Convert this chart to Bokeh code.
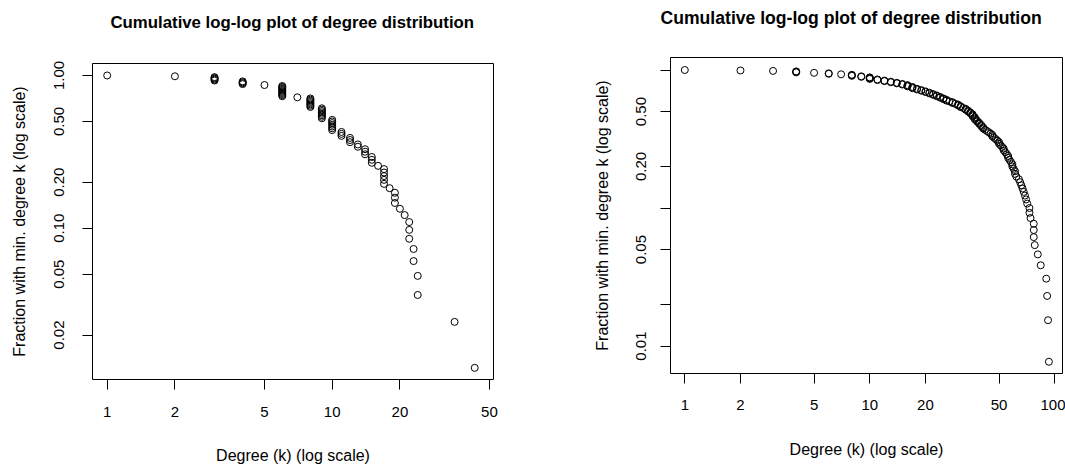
import numpy as np
from bokeh.plotting import figure
from bokeh.models import FixedTicker, Range1d
from bokeh.layouts import row, column
from bokeh.embed import file_html
from bokeh.resources import INLINE

title_text = "Cumulative log-log plot of degree distribution"
x_label = "Degree (k) (log scale)"
y_label = "Fraction with min. degree k (log scale)"

# Left network: degree values and number of nodes with that degree (n = 82)
left_degrees = [1, 2, 3, 4, 5, 6, 7, 8, 9, 10, 11, 12, 13, 14, 15, 16, 17, 18,
                19, 20, 21, 22, 23, 24, 35, 43]
left_counts = [1, 1, 5, 4, 1, 11, 1, 8, 8, 7, 3, 3, 2, 3, 3, 1, 5, 1,
               3, 1, 1, 3, 2, 2, 1, 1]

# Right network: degree values and number of nodes with that degree (n = 130)
right_degrees = [1, 2, 3, 4, 5, 6, 7, 8, 9, 10, 11, 12, 13, 14, 15, 16, 17, 18,
                 19, 20, 21, 22, 23, 24, 25, 26, 27, 28, 29, 30, 31, 32, 33, 34,
                 35, 36, 37, 38, 39, 40, 41, 42, 43, 44, 45, 46, 47, 48, 49, 50,
                 51, 52, 53, 54, 55, 56, 57, 58, 59, 60, 61, 62, 64, 65, 66, 67,
                 68, 69, 70, 71, 73, 74, 77, 78, 81, 84, 90, 91, 92, 93]
right_counts = [1, 1, 1, 3, 1, 2, 1, 3, 2, 4, 2, 2, 2, 2, 2, 3, 3, 2,
                2, 2, 2, 2, 2, 2, 2, 2, 1, 2, 1, 2, 2, 1, 2, 2,
                2, 3, 3, 2, 2, 2, 2, 1, 1, 1, 1, 2, 1, 1, 1, 2,
                1, 1, 2, 1, 1, 2, 1, 1, 2, 1, 2, 1, 1, 1, 1, 1,
                1, 1, 1, 1, 2, 1, 3, 1, 1, 1, 1, 1, 1, 1]

left_x_ticks = [1, 2, 5, 10, 20, 50]
left_x_tick_labels = ["1", "2", "5", "10", "20", "50"]
left_y_ticks = [1, 0.5, 0.2, 0.1, 0.05, 0.02]
left_y_tick_labels = ["1.00", "0.50", "0.20", "0.10", "0.05", "0.02"]

right_x_ticks = [1, 2, 5, 10, 20, 50, 100]
right_x_tick_labels = ["1", "2", "5", "10", "20", "50", "100"]
right_y_ticks = [1, 0.5, 0.2, 0.1, 0.05, 0.02, 0.01]
right_y_tick_labels = ["", "0.50", "0.20", "", "0.05", "", "0.01"]


def cumulative(degrees, counts):
    seq = np.repeat(np.array(degrees, dtype=float), counts)
    seq = np.sort(seq)[::-1]
    n = len(seq)
    frac = np.arange(1, n + 1) / n
    return seq, frac


FONT = "Liberation Sans"


def make_plot(width, height, borders, xr_log, yr_log, degrees, counts,
              xticks, xlabels, yticks, ylabels, xt_stand, xl_stand,
              yt_stand, yl_stand, title_size, title_offset, title_pad):
    left, right, top, bottom = borders
    p = figure(width=width, height=height, x_axis_type="log", y_axis_type="log",
               x_range=Range1d(10 ** xr_log[0], 10 ** xr_log[1]),
               y_range=Range1d(10 ** yr_log[0], 10 ** yr_log[1]),
               output_backend="svg", toolbar_location=None,
               min_border_left=left, min_border_right=right,
               min_border_top=top, min_border_bottom=bottom,
               background_fill_color="white", border_fill_color="white")

    x, y = cumulative(degrees, counts)
    p.scatter(x, y, marker="circle", size=7, fill_color=None,
              line_color="black", line_width=1)
    p.outline_line_color = "black"
    p.outline_line_width = 1
    p.outline_line_alpha = 1
    p.grid.visible = False

    p.title.text = title_text
    p.title.align = "left"
    p.title.vertical_align = "bottom"
    p.title.offset = title_offset
    p.title.text_font = FONT
    p.title.text_font_style = "bold"
    p.title.text_font_size = title_size
    p.title.text_color = "black"
    try:
        # padding order: (left, right, top, bottom)
        p.title.padding = (0, 0, 0, title_pad)
        p.title.standoff = 0
    except Exception:
        p.title.standoff = 10

    for ax in (p.xaxis[0], p.yaxis[0]):
        ax.axis_line_color = None
        ax.major_tick_out = 10
        ax.major_tick_in = 0
        ax.minor_tick_out = 0
        ax.minor_tick_in = 0
        ax.major_tick_line_color = "black"
        ax.major_tick_line_width = 1
        ax.major_label_text_font = FONT
        ax.major_label_text_font_size = "15px"
        ax.major_label_text_color = "black"
        ax.axis_label_text_font = FONT
        ax.axis_label_text_font_size = "16px"
        ax.axis_label_text_font_style = "normal"
        ax.axis_label_text_color = "black"

    p.xaxis[0].ticker = FixedTicker(ticks=xticks)
    p.xaxis[0].major_label_overrides = {t: l for t, l in zip(xticks, xlabels)}
    p.xaxis[0].axis_label = x_label
    p.xaxis[0].major_label_standoff = xt_stand
    p.xaxis[0].axis_label_standoff = xl_stand

    p.yaxis[0].ticker = FixedTicker(ticks=yticks)
    p.yaxis[0].major_label_overrides = {t: l for t, l in zip(yticks, ylabels)}
    p.yaxis[0].major_label_orientation = "vertical"
    p.yaxis[0].axis_label = y_label
    p.yaxis[0].major_label_standoff = yt_stand
    p.yaxis[0].axis_label_standoff = yl_stand
    return p


p1 = make_plot(535, 466, (92, 42, 63, 86), (-0.0653, 1.717), (-1.990, 0.0784),
               left_degrees, left_counts,
               left_x_ticks, left_x_tick_labels, left_y_ticks, left_y_tick_labels,
               17, 27, 18, 24, "16.8px", 18, 32)

p2 = make_plot(530, 466, (135, 3, 57, 93), (-0.0773, 2.042), (-2.199, 0.0906),
               right_degrees, right_counts,
               right_x_ticks, right_x_tick_labels, right_y_ticks, right_y_tick_labels,
               16, 28, 14, 23, "17.6px", -10, 30)

layout = row(column(p1), column(p2))
open("out.html", "w").write(file_html(layout, INLINE))
